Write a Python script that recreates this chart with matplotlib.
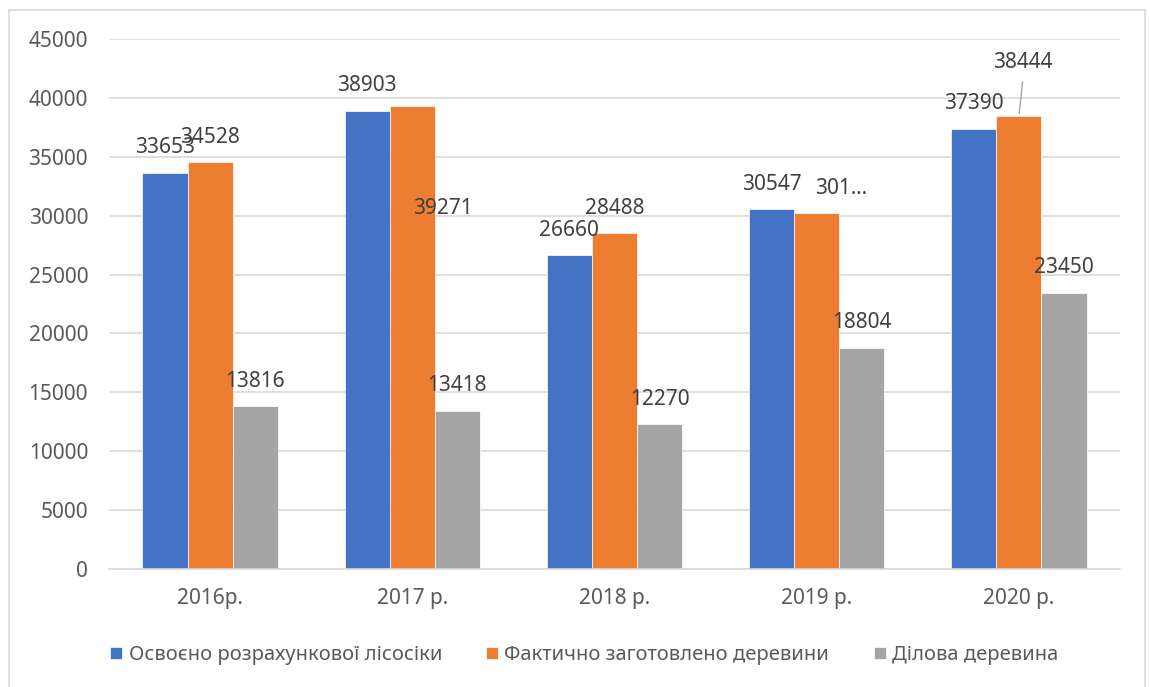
import matplotlib
matplotlib.use('Agg')
import matplotlib.pyplot as plt
import numpy as np
from matplotlib.patches import Rectangle

plt.rcParams['font.family'] = ['Noto Sans', 'DejaVu Sans']

years = ['2016р.', '2017 р.', '2018 р.', '2019 р.', '2020 р.']
series_names = ['Освоєно розрахункової лісосіки',
                'Фактично заготовлено деревини',
                'Ділова деревина']
osvoeno = [33653, 38903, 26660, 30547, 37390]
faktychno = [34528, 39271, 28488, 30200, 38444]
dilova = [13816, 13418, 12270, 18804, 23450]
# label text as printed (Excel cut one of them)
faktychno_text = ['34528', '39271', '28488', '301…', '38444']

colors = ['#4472C4', '#ED7D31', '#A5A5A5']
txt = '#404040'
fs = 15

fig = plt.figure(figsize=(11.5, 6.87), dpi=100)
ax = fig.add_axes([109 / 1150, 1 - 569 / 687, (1120 - 109) / 1150, (569 - 39) / 687])

x = np.arange(len(years))
w = 0.223
data = [osvoeno, faktychno, dilova]
texts = [[str(v) for v in osvoeno], faktychno_text, [str(v) for v in dilova]]

# labels Excel moved away from the default spot (series, year) -> pixel offset
moved = {(1, 1): (31, -102), (1, 3): (24, 25), (1, 4): (4, 54)}

for k, (vals, col) in enumerate(zip(data, colors)):
    xs = x + (k - 1) * w
    ax.bar(xs, vals, width=w, color=col, edgecolor='white', linewidth=0.5,
           label=series_names[k], zorder=2)
    for i, (xi, v) in enumerate(zip(xs, vals)):
        dx, dy = moved.get((k, i), (0, 25))
        ax.annotate(texts[k][i], (xi, v), xytext=(dx, dy),
                    textcoords='offset pixels', ha='center', va='center',
                    fontsize=fs, color=txt, zorder=4)
        if (k, i) == (1, 4):
            # leader line
            ax.annotate('', (xi, v), xytext=(dx, dy - 17),
                        textcoords='offset pixels',
                        arrowprops=dict(arrowstyle='-', color='#a6a6a6', lw=1))

ax.set_ylim(0, 45000)
ax.set_xlim(-0.5, len(years) - 0.5)
ax.set_yticks(np.arange(0, 45001, 5000))
ax.yaxis.grid(True, color='#d9d9d9', linewidth=1.2, zorder=0)
ax.set_axisbelow(True)
for s in ['top', 'right', 'left']:
    ax.spines[s].set_visible(False)
ax.spines['bottom'].set_color('#d9d9d9')
ax.spines['bottom'].set_linewidth(1.2)
ax.tick_params(axis='both', length=0, labelsize=fs, labelcolor='#595959')
ax.tick_params(axis='y', pad=15)
ax.tick_params(axis='x', pad=14)
ax.set_xticks(x)
ax.set_xticklabels(years)

fig.legend(loc='center', bbox_to_anchor=(0.508, 1 - 655 / 687), ncol=3,
           frameon=False, fontsize=14.5, handlelength=0.6, handleheight=0.6,
           handletextpad=0.3, columnspacing=2.2, labelcolor='#595959')

# outer chart frame
fig.patches.append(Rectangle((9 / 1150, -0.01), (1145 - 9) / 1150, 1 - 10 / 687 + 0.01,
                             transform=fig.transFigure, fill=False,
                             edgecolor='#d9d9d9', linewidth=1.2))

fig.savefig('out.png', dpi=100)
